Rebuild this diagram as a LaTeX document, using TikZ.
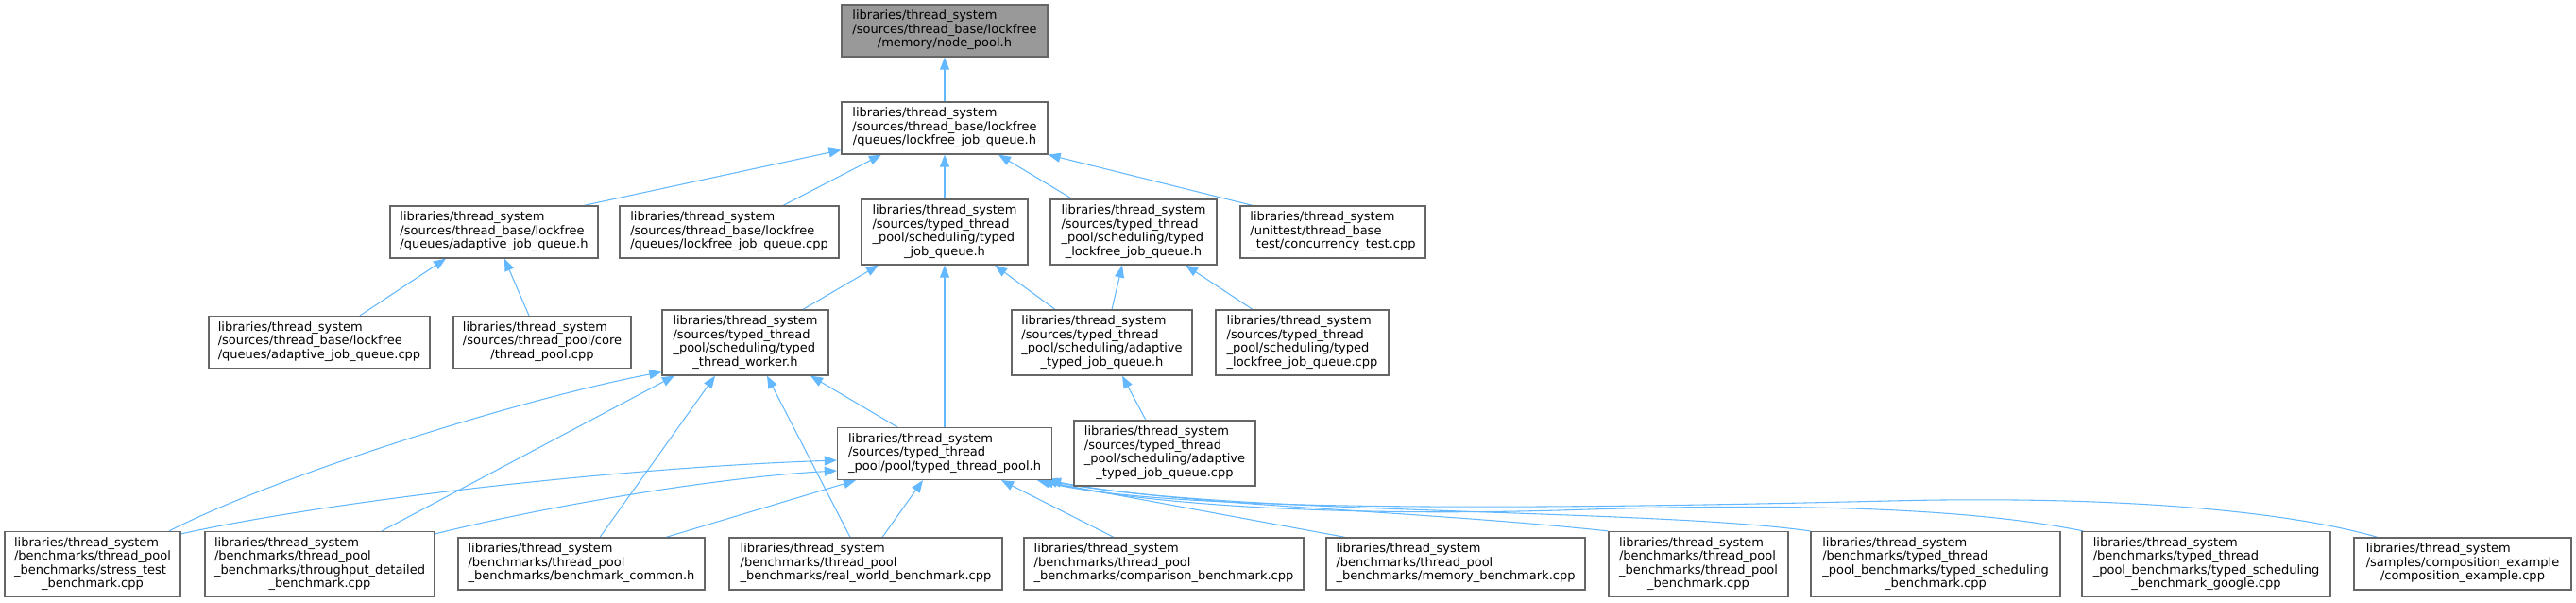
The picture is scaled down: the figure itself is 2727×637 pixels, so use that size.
\documentclass[tikz,border=0pt]{standalone}
\usepackage{fontspec}
\setmainfont{DejaVu Sans}
\usetikzlibrary{arrows.meta,calc,backgrounds}
\definecolor{bordc}{HTML}{666666}
\definecolor{rootc}{HTML}{999999}
\definecolor{edgec}{HTML}{63B8FF}
\newcommand\lbl[2]{\begin{tabular}{@{}l@{}}#1\\\multicolumn{1}{@{}c@{}}{#2}\end{tabular}}
\tikzset{
  box/.style={draw=bordc, fill=white, line width=0.9pt, inner sep=0pt,
    font=\fontsize{9.75pt}{10.9pt}\selectfont},
  root/.style={box, fill=rootc},
  wd/.style={minimum width=#1*0.75pt},
  hthree/.style={minimum height=55*0.75pt},
  hfour/.style={minimum height=69*0.75pt},
  dep/.style={draw=edgec, line width=0.8pt, -{Triangle[length=9.8pt,width=7.5pt]}},
}
\begin{document}
\begin{tikzpicture}[x=0.75pt,y=-0.75pt]
\useasboundingbox (0,0) rectangle (2727,637);
% row 0
\node[root,wd=218,hthree] (np) at (1000,32.5) {\lbl{libraries/thread\_system\\/sources/thread\_base/lockfree}{/memory/node\_pool.h}};
% row 1
\node[box,wd=218,hthree] (lfq) at (1000,135.5) {\lbl{libraries/thread\_system\\/sources/thread\_base/lockfree}{/queues/lockfree\_job\_queue.h}};
% row 2
\node[box,wd=220,hthree] (ajq) at (523,245.5) {\lbl{libraries/thread\_system\\/sources/thread\_base/lockfree}{/queues/adaptive\_job\_queue.h}};
\node[box,wd=232,hthree] (lfqcpp) at (772,245.5) {\lbl{libraries/thread\_system\\/sources/thread\_base/lockfree}{/queues/lockfree\_job\_queue.cpp}};
\node[box,wd=176,hfour] (tjq) at (1000,245.5) {\lbl{libraries/thread\_system\\/sources/typed\_thread\\\_pool/scheduling/typed}{\_job\_queue.h}};
\node[box,wd=176,hfour] (tlfq) at (1200,245.5) {\lbl{libraries/thread\_system\\/sources/typed\_thread\\\_pool/scheduling/typed}{\_lockfree\_job\_queue.h}};
\node[box,wd=196,hthree] (conc) at (1411,245.5) {\lbl{libraries/thread\_system\\/unittest/thread\_base}{\_test/concurrency\_test.cpp}};
% row 3
\node[box,wd=234,hthree] (ajqcpp) at (338,362) {\lbl{libraries/thread\_system\\/sources/thread\_base/lockfree}{/queues/adaptive\_job\_queue.cpp}};
\node[box,wd=188,hthree] (tpcpp) at (574,362) {\lbl{libraries/thread\_system\\/sources/thread\_pool/core}{/thread\_pool.cpp}};
\node[box,wd=176,hfour] (worker) at (789,362.5) {\lbl{libraries/thread\_system\\/sources/typed\_thread\\\_pool/scheduling/typed}{\_thread\_worker.h}};
\node[box,wd=191,hfour] (atjq) at (1166.5,362.5) {\lbl{libraries/thread\_system\\/sources/typed\_thread\\\_pool/scheduling/adaptive}{\_typed\_job\_queue.h}};
\node[box,wd=183,hfour] (tlfqcpp) at (1378.5,362.5) {\lbl{libraries/thread\_system\\/sources/typed\_thread\\\_pool/scheduling/typed}{\_lockfree\_job\_queue.cpp}};
% row 4
\node[box,wd=227,hthree] (pool) at (1000,480) {\lbl{libraries/thread\_system\\/sources/typed\_thread}{\_pool/pool/typed\_thread\_pool.h}};
\node[box,wd=192,hfour] (atjqcpp) at (1233,479.5) {\lbl{libraries/thread\_system\\/sources/typed\_thread\\\_pool/scheduling/adaptive}{\_typed\_job\_queue.cpp}};
% row 5
\node[box,wd=186,hfour] (stress) at (98,597) {\lbl{libraries/thread\_system\\/benchmarks/thread\_pool\\\_benchmarks/stress\_test}{\_benchmark.cpp}};
\node[box,wd=243,hfour] (through) at (338.5,597) {\lbl{libraries/thread\_system\\/benchmarks/thread\_pool\\\_benchmarks/throughput\_detailed}{\_benchmark.cpp}};
\node[box,wd=261,hthree] (common) at (615.5,596.5) {\lbl{libraries/thread\_system\\/benchmarks/thread\_pool}{\_benchmarks/benchmark\_common.h}};
\node[box,wd=289,hthree] (real) at (916.5,596.5) {\lbl{libraries/thread\_system\\/benchmarks/thread\_pool}{\_benchmarks/real\_world\_benchmark.cpp}};
\node[box,wd=296,hthree] (comp) at (1232,596.5) {\lbl{libraries/thread\_system\\/benchmarks/thread\_pool}{\_benchmarks/comparison\_benchmark.cpp}};
\node[box,wd=274,hthree] (mem) at (1541,596.5) {\lbl{libraries/thread\_system\\/benchmarks/thread\_pool}{\_benchmarks/memory\_benchmark.cpp}};
\node[box,wd=190,hfour] (tpb) at (1798,597) {\lbl{libraries/thread\_system\\/benchmarks/thread\_pool\\\_benchmarks/thread\_pool}{\_benchmark.cpp}};
\node[box,wd=264,hfour] (tsb) at (2049,597) {\lbl{libraries/thread\_system\\/benchmarks/typed\_thread\\\_pool\_benchmarks/typed\_scheduling}{\_benchmark.cpp}};
\node[box,wd=263,hfour] (tsg) at (2335.5,597) {\lbl{libraries/thread\_system\\/benchmarks/typed\_thread\\\_pool\_benchmarks/typed\_scheduling}{\_benchmark\_google.cpp}};
\node[box,wd=230,hthree] (compex) at (2607,596.5) {\lbl{libraries/thread\_system\\/samples/composition\_example}{/composition\_example.cpp}};
% edges
\begin{scope}[on background layer]
\draw[dep] (lfq.north) -- (np.south);
\draw[dep] ($(ajq.north)+(95,0)$) -- ($(lfq.south west)+(0,-5)$);
\draw[dep] ($(lfqcpp.north)+(57,0)$) -- ($(lfq.south)+(-67,0)$);
\draw[dep] (tjq.north) -- (lfq.south);
\draw[dep] ($(tlfq.north)+(-65,0)$) -- ($(lfq.south)+(57,0)$);
\draw[dep] ($(conc.north)+(-85,0)$) -- (lfq.south east);
\draw[dep] ($(ajqcpp.north)+(43,0)$) -- ($(ajq.south)+(-51,0)$);
\draw[dep] ($(tpcpp.north)+(-14,0)$) -- ($(ajq.south)+(11,0)$);
\draw[dep] ($(worker.north)+(61,0)$) -- ($(tjq.south)+(-70,0)$);
\draw[dep] ($(atjq.north)+(-49.5,0)$) -- ($(tjq.south)+(53,0)$);
\draw[dep] (pool.north) -- (tjq.south);
\draw[dep] ($(atjq.north)+(10.5,0)$) -- ($(tlfq.south)+(-12,0)$);
\draw[dep] ($(tlfqcpp.north)+(-52.5,0)$) -- ($(tlfq.south)+(55,0)$);
\draw[dep] ($(atjqcpp.north)+(-20,0)$) -- ($(atjq.south)+(21.5,0)$);
\draw[dep] ($(pool.north)+(-50,0)$) -- ($(worker.south)+(69,0)$);
\draw[dep] ($(stress.north)+(81,0)$) .. controls (300,500) and (560,420) .. ($(worker.south west)+(0,-4)$);
\draw[dep] ($(through.north)+(65.5,0)$) -- ($(worker.south)+(-75,0)$);
\draw[dep] ($(common.north)+(19.5,0)$) -- ($(worker.south)+(-32,0)$);
\draw[dep] ($(real.north)+(-16.5,0)$) -- ($(worker.south)+(23,0)$);
\draw[dep] ($(stress.north east)+(0,3)$) .. controls (350,530) and (650,495) .. ($(pool.west)+(0,7)$);
\draw[dep] ($(through.north east)+(0,3)$) .. controls (580,535) and (760,505) .. ($(pool.west)+(0,18)$);
\draw[dep] ($(common.north)+(89.5,0)$) -- ($(pool.south)+(-94,0)$);
\draw[dep] ($(real.north)+(17.5,0)$) -- ($(pool.south)+(-23,0)$);
\draw[dep] ($(comp.north)+(-53,0)$) -- ($(pool.south)+(60,0)$);
\draw[dep] ($(mem.north)+(-117,0)$) -- ($(pool.south)+(98,0)$);
\draw[dep] (tpb.north west) .. controls (1500,540) and (1250,535) .. ($(pool.south east)+(-4,0)$);
\draw[dep] (tsb.north west) .. controls (1750,538) and (1300,545) .. ($(pool.south east)+(-8,0)$);
\draw[dep] ($(tsg.north west)+(2,0)$) .. controls (2050,530) and (1800,535) .. (1650,540) .. controls (1400,547) and (1200,532) .. ($(pool.south east)+(-12,0)$);
\draw[dep] ($(compex.north)+(-90,0)$) .. controls (2400,535) and (2200,525) .. (2000,530) .. controls (1700,537) and (1250,545) .. ($(pool.south east)+(-16,0)$);
\end{scope}
\end{tikzpicture}
\end{document}
